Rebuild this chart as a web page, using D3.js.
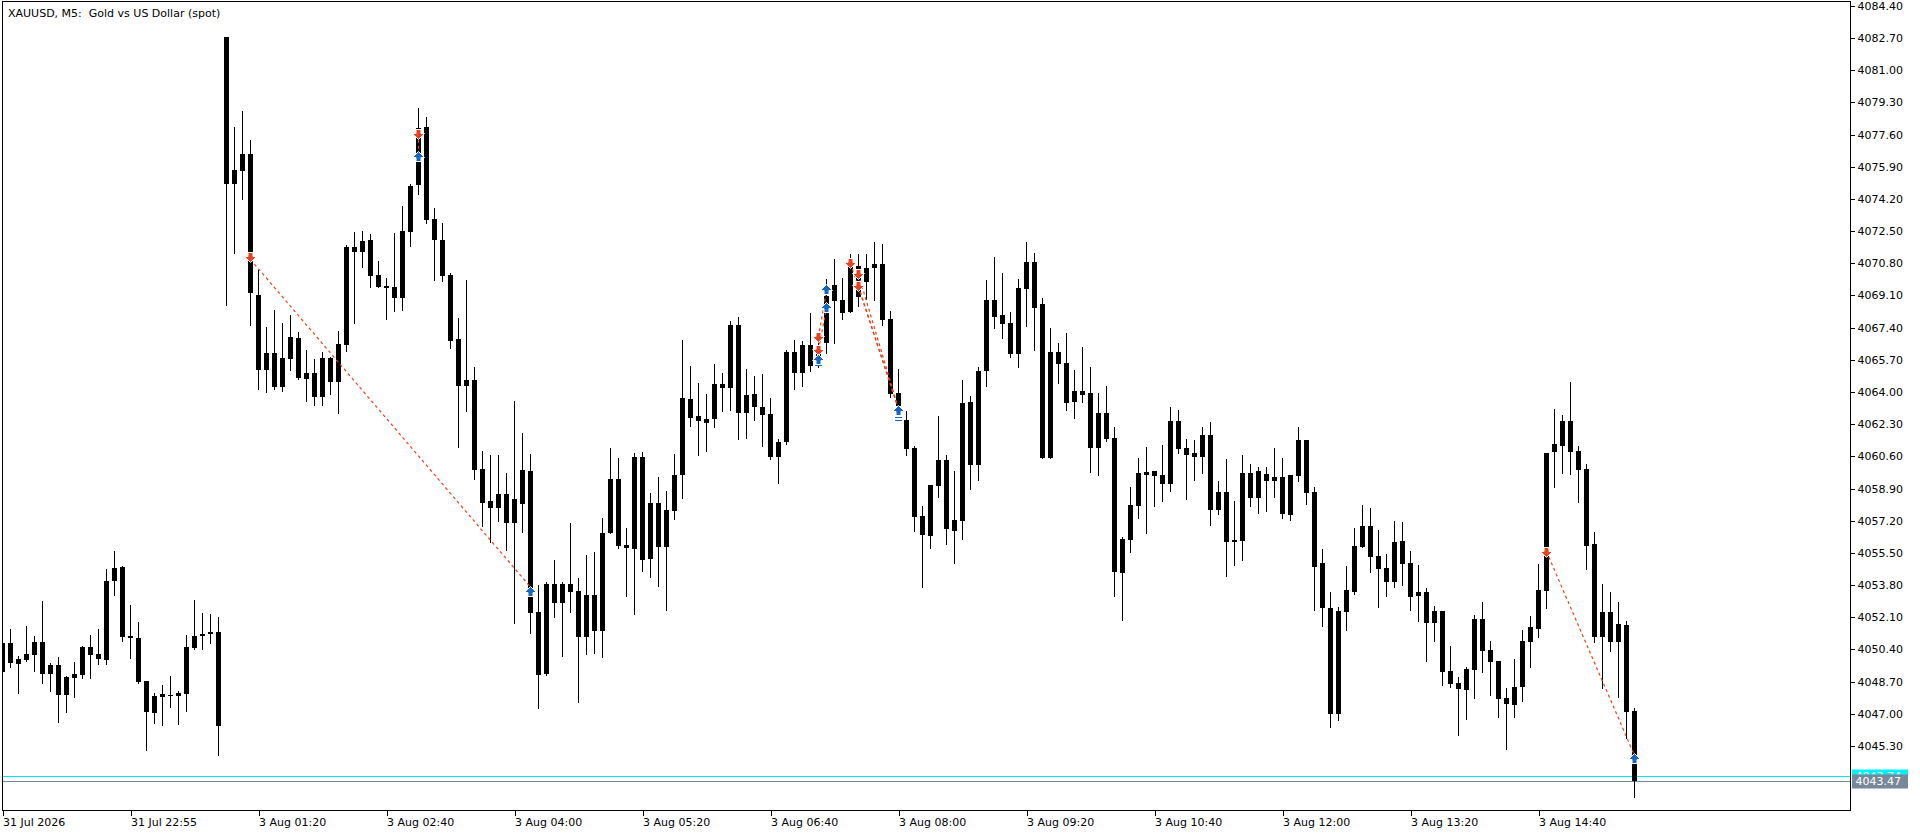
<!DOCTYPE html>
<html>
<head>
<meta charset="utf-8">
<title>XAUUSD M5</title>
<style>
  html, body { margin: 0; padding: 0; background: #fff; }
  svg { display: block; }
  text { font-family: "DejaVu Sans", sans-serif; font-size: 11px; }
</style>
</head>
<body>
<svg id="chart" width="1920" height="834"></svg>
<script src="https://d3js.org/d3.v7.min.js"></script>
<script>
// ---- data (5 minute bars, left to right) ----
const opens = [
  4049.23, 4050.72, 4049.65, 4049.86, 4050.13, 4050.79, 4049.12, 4049.58, 4048.01, 4048.91,
  4049.05, 4050.53, 4050.16, 4049.84, 4054.03, 4054.77, 4051.11, 4051.00, 4048.73, 4047.06,
  4047.91, 4047.99, 4047.94, 4048.06, 4050.50, 4051.13, 4051.24, 4051.34, 4082.75, 4075.00,
  4075.69, 4076.57, 4069.12, 4065.16, 4066.05, 4064.28, 4065.76, 4066.85, 4064.71, 4064.99,
  4063.75, 4065.80, 4064.55, 4066.49, 4071.66, 4071.41, 4072.03, 4070.17, 4069.60, 4069.55,
  4068.98, 4072.46, 4074.91, 4077.99, 4073.14, 4072.03, 4070.17, 4066.80, 4064.34, 4064.63,
  4059.93, 4058.24, 4057.89, 4058.61, 4057.10, 4058.10, 4059.83, 4052.38, 4049.10, 4053.86,
  4052.87, 4053.86, 4053.49, 4051.07, 4053.28, 4051.39, 4056.57, 4059.40, 4055.92, 4055.72,
  4060.57, 4055.19, 4058.15, 4055.83, 4057.73, 4059.60, 4063.63, 4062.73, 4062.38, 4062.56,
  4064.42, 4064.19, 4067.54, 4062.91, 4063.89, 4063.19, 4062.84, 4060.59, 4061.38, 4066.13,
  4065.00, 4066.48, 4065.45, 4066.61, 4069.65, 4068.86, 4068.23, 4070.66, 4069.81, 4070.57,
  4070.76, 4067.86, 4063.93, 4062.52, 4061.04, 4057.45, 4056.41, 4059.05, 4060.41, 4056.67,
  4057.20, 4063.47, 4060.16, 4065.13, 4068.86, 4068.07, 4067.65, 4066.01, 4069.44, 4070.87,
  4068.65, 4060.51, 4066.11, 4065.53, 4063.47, 4064.05, 4063.95, 4061.04, 4062.89, 4061.57,
  4054.46, 4056.18, 4057.98, 4059.77, 4059.58, 4059.62, 4059.16, 4062.47, 4061.04, 4060.57,
  4060.57, 4061.73, 4057.77, 4058.72, 4056.09, 4056.15, 4059.72, 4058.42, 4059.67, 4059.30,
  4059.51, 4057.50, 4059.56, 4061.47, 4058.72, 4054.97, 4052.59, 4046.99, 4052.38, 4053.43,
  4055.81, 4056.92, 4055.34, 4054.70, 4053.96, 4056.13, 4054.99, 4053.23, 4053.44, 4051.80,
  4052.43, 4049.26, 4048.63, 4048.26, 4049.31, 4052.00, 4050.37, 4049.79, 4047.84, 4047.47,
  4048.42, 4050.79, 4051.48, 4053.49, 4060.83, 4061.15, 4062.47, 4060.88, 4059.93, 4055.97,
  4051.06, 4052.38, 4050.79, 4051.69, 4047.15
]
const highs = [
  4050.80, 4051.48, 4050.05, 4051.64, 4051.11, 4052.96, 4049.67, 4050.00, 4049.00, 4049.74,
  4050.58, 4051.16, 4051.48, 4054.65, 4055.60, 4054.83, 4052.75, 4051.85, 4048.73, 4048.12,
  4048.52, 4049.00, 4048.20, 4051.16, 4053.01, 4052.34, 4052.27, 4052.12, 4082.75, 4077.99,
  4078.84, 4077.32, 4070.44, 4067.42, 4068.34, 4067.64, 4068.07, 4067.17, 4066.21, 4065.75,
  4066.10, 4065.85, 4067.23, 4071.76, 4072.44, 4072.50, 4072.35, 4070.92, 4070.01, 4072.41,
  4073.82, 4075.01, 4078.99, 4078.53, 4073.71, 4072.92, 4070.28, 4067.92, 4069.89, 4065.32,
  4060.88, 4060.67, 4060.67, 4059.72, 4063.52, 4061.82, 4060.72, 4053.80, 4053.96, 4055.12,
  4053.96, 4057.10, 4054.16, 4055.39, 4055.55, 4057.34, 4061.06, 4060.53, 4056.80, 4060.76,
  4060.83, 4058.68, 4059.51, 4058.77, 4060.72, 4066.75, 4065.37, 4064.46, 4063.89, 4065.48,
  4065.00, 4067.77, 4067.94, 4065.21, 4064.85, 4064.95, 4063.67, 4061.52, 4066.22, 4066.75,
  4066.69, 4068.17, 4066.95, 4069.95, 4071.01, 4070.00, 4071.27, 4071.27, 4071.27, 4071.91,
  4071.82, 4068.28, 4065.21, 4062.99, 4061.15, 4057.98, 4059.09, 4062.71, 4060.67, 4059.84,
  4064.63, 4063.81, 4065.34, 4069.92, 4071.13, 4070.29, 4068.23, 4069.97, 4071.92, 4071.34,
  4068.97, 4067.36, 4066.59, 4067.12, 4065.16, 4066.38, 4065.34, 4063.95, 4064.32, 4062.15,
  4056.34, 4059.00, 4060.51, 4061.09, 4059.83, 4061.22, 4063.20, 4063.05, 4061.52, 4061.47,
  4062.15, 4062.42, 4059.30, 4060.46, 4058.24, 4060.67, 4060.20, 4060.04, 4060.04, 4061.04,
  4060.51, 4059.62, 4062.15, 4061.47, 4058.98, 4055.71, 4053.43, 4052.64, 4054.81, 4056.82,
  4058.03, 4057.87, 4056.71, 4055.44, 4057.19, 4057.13, 4055.60, 4054.86, 4053.65, 4052.70,
  4052.43, 4050.58, 4048.95, 4049.47, 4052.22, 4052.91, 4050.85, 4049.79, 4048.36, 4049.90,
  4051.43, 4052.17, 4054.91, 4060.78, 4063.10, 4062.79, 4064.53, 4061.15, 4060.20, 4056.61,
  4053.86, 4053.44, 4052.91, 4051.90, 4047.31
]
const lows = [
  4049.10, 4049.49, 4048.12, 4049.79, 4049.28, 4048.65, 4048.22, 4046.59, 4047.11, 4047.91,
  4048.91, 4048.91, 4049.65, 4049.65, 4053.29, 4050.86, 4049.97, 4048.65, 4045.09, 4046.53,
  4046.43, 4047.38, 4046.48, 4047.17, 4050.42, 4050.42, 4050.76, 4044.83, 4068.57, 4071.35,
  4074.21, 4067.55, 4064.17, 4064.01, 4064.17, 4064.07, 4065.16, 4064.66, 4063.53, 4063.33,
  4063.33, 4063.90, 4062.91, 4066.17, 4067.66, 4070.62, 4069.55, 4069.55, 4067.87, 4068.26,
  4068.35, 4071.73, 4074.48, 4072.92, 4069.92, 4069.84, 4066.33, 4061.08, 4063.00, 4059.40,
  4056.92, 4056.06, 4057.20, 4055.67, 4051.82, 4056.62, 4051.25, 4047.32, 4049.07, 4052.13,
  4050.07, 4052.40, 4047.64, 4050.14, 4050.19, 4050.02, 4056.57, 4055.78, 4053.24, 4052.29,
  4054.56, 4054.25, 4053.77, 4052.50, 4057.31, 4058.42, 4062.22, 4060.67, 4060.90, 4062.17,
  4063.01, 4063.07, 4061.53, 4061.59, 4062.54, 4061.16, 4060.44, 4059.21, 4061.27, 4064.18,
  4064.33, 4065.13, 4065.30, 4066.08, 4066.57, 4067.86, 4068.23, 4068.54, 4068.91, 4068.86,
  4067.56, 4063.75, 4062.95, 4060.67, 4056.67, 4053.72, 4055.78, 4058.47, 4055.95, 4054.98,
  4056.25, 4058.89, 4059.37, 4064.34, 4067.38, 4066.87, 4065.87, 4065.34, 4067.50, 4066.24,
  4060.51, 4060.51, 4064.49, 4063.05, 4062.64, 4063.49, 4059.79, 4059.63, 4061.43, 4053.24,
  4051.97, 4055.57, 4057.36, 4056.57, 4058.00, 4058.26, 4058.78, 4060.80, 4058.35, 4059.37,
  4059.72, 4056.97, 4057.56, 4054.28, 4054.86, 4055.13, 4057.98, 4057.61, 4057.71, 4058.45,
  4057.34, 4057.24, 4059.30, 4058.08, 4052.48, 4051.64, 4046.30, 4046.67, 4051.43, 4053.33,
  4055.81, 4054.49, 4052.64, 4053.22, 4053.70, 4053.80, 4052.48, 4051.90, 4049.79, 4050.85,
  4048.52, 4048.42, 4045.88, 4046.73, 4047.84, 4049.21, 4047.99, 4046.83, 4045.14, 4046.83,
  4047.68, 4049.47, 4051.06, 4052.59, 4058.98, 4059.72, 4059.67, 4058.19, 4054.65, 4050.79,
  4048.36, 4050.32, 4047.89, 4045.72, 4042.61
]
const closes = [
  4050.72, 4049.67, 4049.90, 4050.14, 4050.78, 4049.12, 4049.58, 4048.01, 4048.96, 4049.10,
  4050.55, 4050.13, 4049.91, 4054.02, 4054.69, 4051.08, 4051.02, 4048.68, 4047.10, 4047.96,
  4048.05, 4047.96, 4048.12, 4050.53, 4051.11, 4051.22, 4051.34, 4046.37, 4075.00, 4075.73,
  4076.57, 4069.25, 4065.16, 4066.05, 4064.28, 4065.80, 4066.91, 4064.76, 4064.99, 4063.75,
  4065.80, 4064.55, 4066.53, 4071.66, 4071.41, 4071.98, 4070.14, 4069.57, 4069.51, 4068.98,
  4072.50, 4074.89, 4077.96, 4073.10, 4072.05, 4070.14, 4066.71, 4064.34, 4064.64, 4059.90,
  4058.15, 4057.89, 4058.61, 4057.10, 4058.35, 4059.88, 4052.34, 4049.07, 4053.86, 4052.87,
  4053.86, 4053.45, 4051.07, 4053.28, 4051.39, 4056.55, 4059.40, 4055.88, 4055.74, 4060.57,
  4055.14, 4058.15, 4055.83, 4057.77, 4059.62, 4063.68, 4062.64, 4062.45, 4062.57, 4064.42,
  4064.19, 4067.54, 4062.87, 4063.84, 4063.19, 4062.80, 4060.59, 4061.36, 4066.13, 4065.00,
  4066.48, 4065.39, 4066.40, 4069.07, 4068.82, 4068.19, 4070.62, 4069.04, 4070.53, 4070.76,
  4067.80, 4063.89, 4063.26, 4060.99, 4057.41, 4056.46, 4059.09, 4060.41, 4056.75, 4057.24,
  4063.44, 4060.16, 4065.13, 4068.86, 4067.98, 4067.61, 4066.01, 4069.49, 4070.87, 4068.44,
  4060.51, 4066.11, 4065.50, 4063.42, 4064.05, 4063.86, 4061.04, 4062.89, 4061.52, 4054.49,
  4056.23, 4058.03, 4059.72, 4059.63, 4059.83, 4059.16, 4062.47, 4061.01, 4060.67, 4060.78,
  4061.73, 4057.77, 4058.72, 4056.09, 4056.20, 4059.72, 4058.42, 4059.83, 4059.30, 4059.51,
  4057.56, 4059.62, 4061.47, 4058.66, 4054.77, 4052.59, 4046.99, 4052.43, 4053.54, 4055.86,
  4056.92, 4055.28, 4054.65, 4053.96, 4056.08, 4054.91, 4053.17, 4053.44, 4051.80, 4052.43,
  4049.21, 4048.57, 4048.31, 4049.37, 4052.00, 4050.32, 4049.74, 4047.78, 4047.52, 4048.42,
  4050.85, 4051.59, 4053.54, 4060.78, 4061.25, 4062.47, 4060.83, 4059.88, 4055.87, 4051.06,
  4052.38, 4050.79, 4051.75, 4047.10, 4043.47
]

// time axis: label every 16 bars
const timeTickBars = [0, 16, 32, 48, 64, 80, 96, 112, 128, 144, 160, 176, 192]
const timeLabels = ['31 Jul 2026', '31 Jul 22:55', '3 Aug 01:20', '3 Aug 02:40', '3 Aug 04:00',
  '3 Aug 05:20', '3 Aug 06:40', '3 Aug 08:00', '3 Aug 09:20', '3 Aug 10:40',
  '3 Aug 12:00', '3 Aug 13:20', '3 Aug 14:40']

const priceTicks = [4084.40, 4082.70, 4081.00, 4079.30, 4077.60, 4075.90, 4074.20, 4072.50,
  4070.80, 4069.10, 4067.40, 4065.70, 4064.00, 4062.30, 4060.60, 4058.90, 4057.20,
  4055.50, 4053.80, 4052.10, 4050.40, 4048.70, 4047.00, 4045.30]

const bid = 4043.47
const ask = 4043.74

// trade history markers: [bar, price]
const sellDeals = [[31, 4071.15], [52, 4077.64], [102, 4066.90], [102, 4066.22], [106, 4070.80],
  [107, 4070.22], [107, 4069.58], [193, 4055.57]]
const buyDeals = [[52, 4076.39], [66, 4053.45], [102, 4065.69], [103, 4069.37], [103, 4068.45],
  [112, 4063.00], [204, 4044.61]]
// small level dashes under some buy arrows: [bar, price]
const levelMarks = [[102, 4065.40], [112, 4062.70], [112, 4062.50]]
// entry -> exit connections: [bar1, price1, bar2, price2]
const dealLinks = [[31, 4071.0, 66, 4053.7], [52, 4077.64, 52, 4076.39],
  [102, 4066.90, 103, 4069.37], [102, 4066.22, 103, 4068.45],
  [106, 4070.80, 112, 4063.1], [107, 4070.22, 112, 4063.1], [107, 4069.58, 112, 4063.1],
  [193, 4055.57, 204, 4044.8]]

const sellColor = '#e8431f'
const buyColor = '#1766c0'

// ---- layout ----
const plot = { left: 2.5, top: 1.5, right: 1850.5, bottom: 810.5 }

const svg = d3.select('#chart')

const x = d3.scaleLinear()
  .domain([0, 204])
  .range([2.5, 2.5 + 8 * 204])

const y = d3.scaleLinear()
  .domain([4045.30, 4084.40])
  .range([746, 5.8])

svg.append('defs').append('clipPath').attr('id', 'plotclip')
  .append('rect')
  .attr('x', plot.left + 0.5).attr('y', plot.top + 0.5)
  .attr('width', plot.right - plot.left - 1).attr('height', plot.bottom - plot.top - 1)

const bars = d3.range(opens.length)

// title
svg.append('text')
  .attr('x', 8).attr('y', 17)
  .style('white-space', 'pre')
  .attr('fill', '#000')
  .text('XAUUSD, M5:  Gold vs US Dollar (spot)')

const plotG = svg.append('g').attr('clip-path', 'url(#plotclip)')

// ask / bid lines
plotG.append('line')
  .attr('x1', plot.left).attr('x2', plot.right)
  .attr('y1', Math.round(y(ask)) + 0.5).attr('y2', Math.round(y(ask)) + 0.5)
  .attr('stroke', '#00e6f6').attr('stroke-width', 1)
plotG.append('line')
  .attr('x1', plot.left).attr('x2', plot.right)
  .attr('y1', Math.round(y(bid)) + 0.5).attr('y2', Math.round(y(bid)) + 0.5)
  .attr('stroke', '#778899').attr('stroke-width', 1)

// candles: wicks then bodies (all black, as in this colour scheme)
const candleG = plotG.append('g').attr('shape-rendering', 'crispEdges')

candleG.selectAll('rect.wick')
  .data(bars)
  .enter()
  .append('rect')
  .attr('class', 'wick')
  .attr('x', i => x(i) - 0.5)
  .attr('y', i => Math.round(y(highs[i])))
  .attr('width', 1)
  .attr('height', i => Math.max(1, Math.round(y(lows[i])) - Math.round(y(highs[i])) + 1))
  .attr('fill', '#000')

candleG.selectAll('rect.body')
  .data(bars)
  .enter()
  .append('rect')
  .attr('class', 'body')
  .attr('x', i => x(i) - 2.5)
  .attr('y', i => Math.round(y(Math.max(opens[i], closes[i]))))
  .attr('width', 5)
  .attr('height', i => Math.max(1, Math.round(y(Math.min(opens[i], closes[i]))) - Math.round(y(Math.max(opens[i], closes[i])))))
  .attr('fill', '#000')

// deal connection lines
plotG.selectAll('line.link')
  .data(dealLinks)
  .enter()
  .append('line')
  .attr('class', 'link')
  .attr('x1', d => x(d[0])).attr('y1', d => y(d[1]))
  .attr('x2', d => x(d[2])).attr('y2', d => y(d[3]))
  .attr('stroke', sellColor)
  .attr('stroke-width', 1.2)
  .attr('stroke-dasharray', '3,3')

// arrows
function upArrow(cx, cy) {
  return `M${cx},${cy - 5.5} L${cx + 6},${cy + 0.5} L${cx + 2.5},${cy + 0.5} L${cx + 2.5},${cy + 4.5} ` +
    `L${cx - 2.5},${cy + 4.5} L${cx - 2.5},${cy + 0.5} L${cx - 6},${cy + 0.5} Z`
}
function downArrow(cx, cy) {
  return `M${cx},${cy + 5.5} L${cx + 6},${cy - 0.5} L${cx + 2.5},${cy - 0.5} L${cx + 2.5},${cy - 4.5} ` +
    `L${cx - 2.5},${cy - 4.5} L${cx - 2.5},${cy - 0.5} L${cx - 6},${cy - 0.5} Z`
}

plotG.selectAll('line.mark')
  .data(levelMarks)
  .enter()
  .append('line')
  .attr('class', 'mark')
  .attr('x1', d => x(d[0]) - 3.5).attr('x2', d => x(d[0]) + 3.5)
  .attr('y1', d => Math.round(y(d[1])) + 0.5).attr('y2', d => Math.round(y(d[1])) + 0.5)
  .attr('stroke', buyColor)
  .attr('stroke-width', 1)

plotG.selectAll('path.sell')
  .data(sellDeals)
  .enter()
  .append('path')
  .attr('class', 'sell')
  .attr('d', d => downArrow(x(d[0]), Math.round(y(d[1]))))
  .attr('fill', sellColor)
  .attr('stroke', '#fff')
  .attr('stroke-width', 1)

plotG.selectAll('path.buy')
  .data(buyDeals)
  .enter()
  .append('path')
  .attr('class', 'buy')
  .attr('d', d => upArrow(x(d[0]), Math.round(y(d[1]))))
  .attr('fill', buyColor)
  .attr('stroke', '#fff')
  .attr('stroke-width', 1)

// frame
svg.append('rect')
  .attr('x', plot.left).attr('y', plot.top)
  .attr('width', plot.right - plot.left).attr('height', plot.bottom - plot.top)
  .attr('fill', 'none').attr('stroke', '#000').attr('stroke-width', 1)
  .attr('shape-rendering', 'crispEdges')

// price axis
const rightAxis = d3.axisRight(y)
  .tickValues(priceTicks)
  .tickFormat(d3.format('.2f'))
  .tickSize(4)
  .tickPadding(3)
const ra = svg.append('g')
  .attr('transform', `translate(${plot.right}, 0)`)
  .call(rightAxis)
ra.select('.domain').remove()
ra.attr('font-family', null).attr('font-size', null)
ra.selectAll('line').attr('shape-rendering', 'crispEdges')
ra.selectAll('text').attr('fill', '#000')

// time axis
const bottomAxis = d3.axisBottom(x)
  .tickValues(timeTickBars)
  .tickFormat((d, i) => timeLabels[i])
  .tickSize(5)
  .tickPadding(3)
const ba = svg.append('g')
  .attr('transform', `translate(0, ${plot.bottom})`)
  .call(bottomAxis)
ba.select('.domain').remove()
ba.attr('font-family', null).attr('font-size', null)
ba.selectAll('line').attr('shape-rendering', 'crispEdges')
ba.selectAll('text')
  .attr('text-anchor', 'start')
  .attr('x', 0)
  .attr('fill', '#000')

// current price labels: ask tag sits behind the bid tag, only its top edge shows
const tagW = 56, tagH = 14
const askY = Math.round(y(ask)) + 0.5
const bidY = Math.round(y(bid)) + 0.5

svg.append('clipPath').attr('id', 'askclip')
  .append('rect')
  .attr('x', plot.right + 1.5).attr('y', askY - tagH / 2)
  .attr('width', tagW).attr('height', (bidY - tagH / 2) - (askY - tagH / 2))

svg.append('rect')
  .attr('x', plot.right + 1.5).attr('y', askY - tagH / 2)
  .attr('width', tagW).attr('height', tagH)
  .attr('fill', '#00f0ff')
svg.append('text')
  .attr('clip-path', 'url(#askclip)')
  .attr('x', plot.right + 5).attr('y', askY)
  .attr('dy', '0.36em')
  .attr('fill', '#fff')
  .text(d3.format('.2f')(ask))

svg.append('rect')
  .attr('x', plot.right + 1.5).attr('y', bidY - tagH / 2)
  .attr('width', tagW).attr('height', tagH)
  .attr('fill', '#778899')
svg.append('text')
  .attr('x', plot.right + 5).attr('y', bidY)
  .attr('dy', '0.36em')
  .attr('fill', '#fff')
  .text(d3.format('.2f')(bid))
</script>
</body>
</html>
